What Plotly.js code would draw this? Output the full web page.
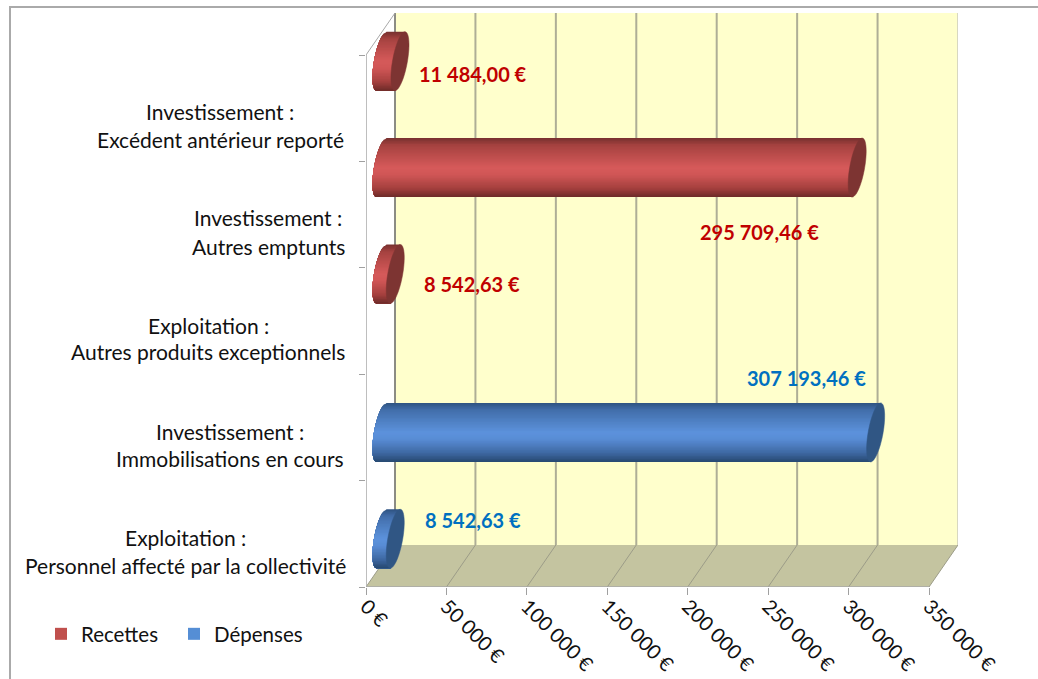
<!DOCTYPE html>
<html>
<head>
<meta charset="utf-8">
<script src="https://cdn.plot.ly/plotly-3.0.1.min.js"></script>
<style>html,body{margin:0;padding:0;background:#fff}</style>
</head>
<body>
<div id="chart" style="width:1038px;height:679px"></div>
<script>
// ---- data ----
const categoryIndex = [0, 1, 2, 3, 4];
const categoryLine1 = ["Exploitation :", "Investissement :", "Exploitation :", "Investissement :", "Investissement :"];
const categoryLine2 = ["Personnel affecté par la collectivité", "Immobilisations en cours", "Autres produits exceptionnels", "Autres emptunts", "Excédent antérieur reporté"];
const recettes = [null, null, 8542.63, 295709.46, 11484.00];
const depenses = [8542.63, 307193.46, null, null, null];
const recettesLabels = ["", "", "8 542,63 €", "295 709,46 €", "11 484,00 €"];
const depensesLabels = ["8 542,63 €", "307 193,46 €", "", "", ""];
const tickValues = [0, 50000, 100000, 150000, 200000, 250000, 300000, 350000];
const tickLabels = ["0 €", "50 000 €", "100 000 €", "150 000 €", "200 000 €", "250 000 €", "300 000 €", "350 000 €"];

// ---- layout geometry (pixels of the page) ----
const W = 1038, H = 679;
const frontL = 366, frontR = 929, frontB = 587, frontT = 55;
const depthX = 29, depthY = 42;
const plotW = frontR + depthX - frontL, plotH = frontB - frontT + depthY;
const PX = p => (p - frontL) / plotW;      // page px -> paper fraction
const PY = p => (frontB - p) / plotH;
const unitsPerPx = 350000 / (frontR - frontL);
const pxPerCat = (frontB - frontT) / 5;
const xMax = plotW * unitsPerPx;
const yMin = -0.5, yMax = -0.5 + plotH / pxPerCat;
const dx = p => p * unitsPerPx;            // px length -> x units
const dy = p => p / pxPerCat;              // px length -> y units
const X = p => (p - frontL) * unitsPerPx;  // page px -> x value
const Y = p => -0.5 + (frontB - p) / pxPerCat;

const barZero = dx(15.5);                  // cylinders sit inside the depth of the box
const barHalf = 29.5, skew = 5, capU = 7.5;
const recettesShift = dy(47), depensesShift = dy(-5);

// vertical shading of a cylinder
const redStops = [[0,[118,48,46]],[0.12,[165,66,64]],[0.5,[214,90,90]],[0.62,[208,86,86]],[0.85,[165,64,62]],[1,[108,42,40]]];
const blueStops = [[0,[46,82,128]],[0.12,[66,110,170]],[0.5,[92,146,220]],[0.62,[88,140,212]],[0.85,[62,104,162]],[1,[38,72,112]]];
function shade(stops, t) {
  for (let i = 1; i < stops.length; i++) {
    if (t <= stops[i][0]) {
      const a = stops[i-1], b = stops[i], f = (t - a[0]) / (b[0] - a[0]);
      const c = a[1].map((v, k) => Math.round(v + (b[1][k] - v) * f));
      return `rgb(${c[0]},${c[1]},${c[2]})`;
    }
  }
  return "rgb(0,0,0)";
}

const shapes = [];
const gridColor = "#aeae96";
// outer frame
shapes.push({type:"path", xref:"paper", yref:"paper", layer:"below", path:`M ${PX(10)} ${PY(H)} L ${PX(10)} ${PY(7)} L ${PX(W)} ${PY(7)}`, line:{color:"#aaaaaa", width:2}});
function poly(pts, fill, line, layer) {
  const path = pts.map((p, i) => (i ? "L " : "M ") + p[0] + " " + p[1]).join(" ") + " Z";
  shapes.push({type:"path", xref:"x", yref:"y", layer:layer || "below", path, fillcolor:fill, line:line || {width:0}});
}
function seg(x0, y0, x1, y1, color, width, layer) {
  shapes.push({type:"line", xref:"x", yref:"y", layer:layer || "below", x0, y0, x1, y1, line:{color, width}});
}
// back wall, floor
poly([[dx(depthX), yMin+dy(depthY)], [xMax, yMin+dy(depthY)], [xMax, yMax], [dx(depthX), yMax]], "#ffffcc");
poly([[0, yMin], [350000, yMin], [xMax, yMin+dy(depthY)], [dx(depthX), yMin+dy(depthY)]], "#c4c4a0");
// grid on the wall and the floor
tickValues.forEach(v => {
  if (v < 350000) {
    seg(v + dx(depthX), yMin+dy(depthY), v + dx(depthX), yMax, v === 0 ? "#8c8c84" : gridColor, 2);
  }
  seg(v, yMin, v + dx(depthX), yMin+dy(depthY), "#9c9c88", 1);
});
seg(xMax - dx(0.5), yMin+dy(depthY), xMax - dx(0.5), yMax, "#d8d8c0", 1);
// box edges
seg(0, yMin, 0, yMin + 5, "#a8a8a8", 1.5);
seg(0, yMin, 350000, yMin, "#a8a8a8", 1.5);
seg(0, yMin + 5, dx(depthX), yMax, "#a8a8a8", 1);

function cylinder(cat, value, shift, stops, capColor) {
  const cy = cat + shift;
  const x0 = barZero, x1 = barZero + value;
  const N = 40;
  const left = s => x0 + dx(s * skew - capU * Math.sqrt(Math.max(0, 1 - s * s)));
  const right = s => x1 + dx(s * skew);
  // painted top to bottom: each band reaches to the bottom, so no seams appear
  for (let k = 0; k < N; k++) {
    const s0 = 1 - 2 * k / N;
    const pts = [[right(s0), cy + dy(s0 * barHalf)]];
    for (let j = 0; j <= 14; j++) {
      const s = s0 + (-1 - s0) * j / 14;
      pts.push([left(s), cy + dy(s * barHalf)]);
    }
    pts.push([right(-1), cy - dy(barHalf)]);
    poly(pts, shade(stops, (k + 0.5) / N), {width:0}, "above");
  }
  const pts = [];
  for (let i = 0; i < 48; i++) {
    const t = 2 * Math.PI * i / 48;
    pts.push([x1 + dx(Math.cos(t) * skew + Math.sin(t) * capU), cy + dy(Math.cos(t) * barHalf)]);
  }
  poly(pts, capColor, {color: capColor, width: 0.5}, "above");
}
categoryIndex.forEach(i => {
  if (recettes[i] !== null) cylinder(i, recettes[i], recettesShift, redStops, "#7d3432");
  if (depenses[i] !== null) cylinder(i, depenses[i], depensesShift, blueStops, "#305684");
});

const font = "Lato, Carlito, 'Open Sans', sans-serif";
const annotations = [];
// category labels: two centred lines each
const labelCentreX = [185, 230, 208, 268, 220];
const labelLine1Y = [537, 431, 325, 218, 111];
const labelLine2Y = [565, 458, 352, 246, 140];
categoryIndex.forEach(i => {
  [[categoryLine1[i], labelLine1Y[i]], [categoryLine2[i], labelLine2Y[i]]].forEach(([text, py]) => {
    annotations.push({xref:"paper", yref:"paper", x:PX(labelCentreX[i]), y:PY(py), text, showarrow:false,
      xanchor:"center", yanchor:"middle", font:{family:font, size:21, color:"#111"}});
  });
});
// data labels
const recLabelPos = [null, null, [472,284], [759,232], [473,74]];
const depLabelPos = [[473,520], [806,378], null, null, null];
categoryIndex.forEach(i => {
  if (recLabelPos[i]) annotations.push({xref:"x", yref:"y", x:X(recLabelPos[i][0]), y:Y(recLabelPos[i][1]), text:recettesLabels[i], showarrow:false,
    xanchor:"center", yanchor:"middle", font:{family:font, size:20, color:"#c00000", weight:700}});
  if (depLabelPos[i]) annotations.push({xref:"x", yref:"y", x:X(depLabelPos[i][0]), y:Y(depLabelPos[i][1]), text:depensesLabels[i], showarrow:false,
    xanchor:"center", yanchor:"middle", font:{family:font, size:20, color:"#0070c0", weight:700}});
});

const barCore = 0.3;
const traces = [
  {type:"bar", orientation:"h", name:"Recettes", y:categoryIndex, x:recettes, base:barZero,
   width:barCore, offset:recettesShift - barCore/2, marker:{color:"#c0504d"}, hoverinfo:"skip"},
  {type:"bar", orientation:"h", name:"Dépenses", y:categoryIndex, x:depenses, base:barZero,
   width:barCore, offset:depensesShift - barCore/2, marker:{color:"#558ed5"}, hoverinfo:"skip"}
];

const layout = {
  width:W, height:H, autosize:false,
  paper_bgcolor:"#ffffff", plot_bgcolor:"rgba(0,0,0,0)",
  margin:{l:frontL, r:W-(frontR+depthX), t:frontT-depthY, b:H-frontB, pad:0},
  barmode:"overlay",
  font:{family:font, size:20.5, color:"#111"},
  showlegend:true,
  legend:{orientation:"h", x:PX(41), y:PY(614), xanchor:"left", yanchor:"top", traceorder:"normal",
    font:{family:font, size:20.5, color:"#111"}, bgcolor:"rgba(0,0,0,0)", itemwidth:30, entrywidth:88, entrywidthmode:"pixels"},
  xaxis:{range:[0, xMax], tickmode:"array", tickvals:tickValues, ticktext:tickLabels, tickangle:45,
    ticks:"outside", ticklen:7, tickcolor:"#a0a0a0", tickwidth:1, showgrid:false, zeroline:false, showline:false,
    ticklabelstandoff:-8,
    tickfont:{family:font, size:20, color:"#111"}, automargin:false, fixedrange:true},
  yaxis:{range:[yMin, yMax], tickmode:"array", tickvals:[-0.5,0.5,1.5,2.5,3.5,4.5], showticklabels:false,
    ticks:"outside", ticklen:6, tickcolor:"#a0a0a0", tickwidth:1, showgrid:false, zeroline:false, showline:false,
    automargin:false, fixedrange:true},
  shapes, annotations
};
Plotly.newPlot("chart", traces, layout, {staticPlot:true, displayModeBar:false});
</script>
</body>
</html>
